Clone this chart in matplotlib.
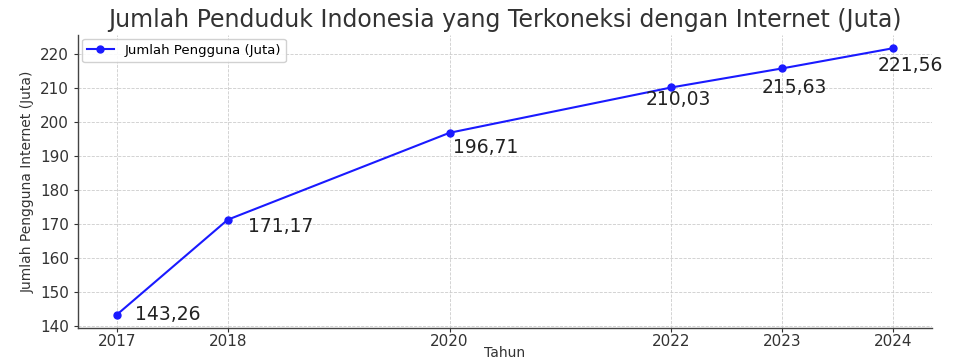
import matplotlib
matplotlib.use("Agg")
import matplotlib.pyplot as plt

years = [2017, 2018, 2020, 2022, 2023, 2024]
users = [143.26, 171.17, 196.71, 210.03, 215.63, 221.56]
labels = ["143,26", "171,17", "196,71", "210,03", "215,63", "221,56"]
# label anchor offsets (years, juta) relative to each point
label_dx = [0.16, 0.18, 0.03, -0.23, -0.19, -0.14]
label_dy = [0.0, -1.9, -4.2, -3.4, -5.5, -5.1]

plt.rcParams['font.family'] = ['DejaVu Sans']
fig = plt.figure(figsize=(9.55, 3.61), dpi=100)
ax = fig.add_axes([0.0817, 0.0914, 0.8943, 0.812])

ax.plot(years, users, color='#1a1aff', marker='o', markersize=5, linewidth=1.5,
        label='Jumlah Pengguna (Juta)')
for x, y, t, dx, dy in zip(years, users, labels, label_dx, label_dy):
    ax.text(x + dx, y + dy, t, fontsize=13.5, ha='left', va='center', color='#222222')

ax.set_xticks(years)
ax.set_yticks(range(140, 221, 10))
ax.grid(True, linestyle='--', linewidth=0.6, color='#cccccc')
for s in ['top', 'right']:
    ax.spines[s].set_visible(False)
for s in ['left', 'bottom']:
    ax.spines[s].set_color('#444444')
    ax.spines[s].set_linewidth(1.0)
ax.tick_params(colors='#333333', labelsize=11, length=3)
ax.tick_params(axis='x', pad=1.5)
ax.set_title('Jumlah Penduduk Indonesia yang Terkoneksi dengan Internet (Juta)',
             fontsize=17, color='#333333', pad=6)
ax.set_xlabel('Tahun', fontsize=10, color='#333333', va='top')
ax.xaxis.set_label_coords(0.5, -0.062)
ax.set_ylabel('Jumlah Pengguna Internet (Juta)', fontsize=10, color='#333333')
ax.legend(loc='upper left', fontsize=9.5, frameon=True, framealpha=0.9,
          edgecolor='#cccccc', borderaxespad=0.3)

fig.savefig('out.png', dpi=100)
